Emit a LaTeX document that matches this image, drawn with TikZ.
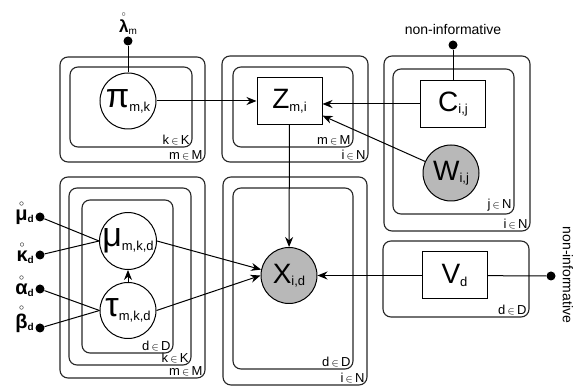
\documentclass[tikz,border=0pt]{standalone}
\usepackage{amsmath}
\usepackage{fontspec}
\setmainfont{Liberation Sans}
\usetikzlibrary{arrows.meta}

% big letter with its index set low beside it
\newcommand{\lab}[2]{{\fontsize{28}{28}\selectfont #1}\raisebox{-2.5pt}{\fontsize{13}{13}\selectfont #2}}
\newcommand{\glab}[2]{{\fontsize{34}{34}\selectfont #1}\raisebox{-4pt}{\fontsize{13}{13}\selectfont #2}}
% hyperparameter: bold greek with a ring on top
\newcommand{\hlab}[2]{{\fontsize{20}{20}\selectfont\bfseries$\overset{\scriptscriptstyle\circ}{\text{#1}}$}\raisebox{-2pt}{\fontsize{10}{10}\selectfont\bfseries #2}}
\newcommand{\pin}{\,{\fontsize{11}{11}\selectfont$\in$}\,}

\begin{document}
\begin{tikzpicture}[x=1pt,y=-1pt,
 plate/.style={rounded corners=8pt,line width=1.1pt,draw=black!85},
 plab/.style={anchor=south east,inner sep=2pt,font=\fontsize{13}{13}\selectfont},
 var/.style={circle,draw,line width=1pt,minimum size=56pt,inner sep=0pt},
 obs/.style={var,fill=black!28},
 fixed/.style={rectangle,draw,line width=1pt,minimum width=65pt,minimum height=47pt,inner sep=0pt},
 hdot/.style={circle,fill,inner sep=0pt,minimum size=9pt},
 arr/.style={-{Stealth[length=10pt,width=8pt]},line width=1pt},
 lnk/.style={line width=1pt}]
 \useasboundingbox (0,0) rectangle (582,390);

 % plates
 \draw[plate] (60,57) rectangle (205,162) node[plab] (m1) {m\pin M};
 \draw[plate] (70,67) rectangle (192,147) node[plab] (k1) {k\pin K};
 \draw[plate] (222,56) rectangle (368,162) node[plab] (i1) {i\pin N};
 \draw[plate] (233,67) rectangle (353,147) node[plab] (m2) {m\pin M};
 \draw[plate] (384,56) rectangle (530,231) node[plab] (i2) {i\pin N};
 \draw[plate] (393,69) rectangle (514,214) node[plab] (j1) {j\pin N};
 \draw[plate] (60,177) rectangle (205,378) node[plab] (m3) {m\pin M};
 \draw[plate] (69,188) rectangle (191,365) node[plab] (k2) {k\pin K};
 \draw[plate] (82,200) rectangle (173,353) node[plab] (d1) {d\pin D};
 \draw[plate] (223,177) rectangle (367,385) node[plab] (i3) {i\pin N};
 \draw[plate] (233,188) rectangle (353,369) node[plab] (d2) {d\pin D};
 \draw[plate] (383,241) rectangle (529,317) node[plab] (d3) {d\pin D};

 % variables
 \node[var] (pi) at (128,101) {\glab{π}{m,k}};
 \node[fixed] (Z) at (289.5,101) {\lab{Z}{m,i}};
 \node[fixed] (C) at (453,104) {\lab{C}{i,j}};
 \node[obs] (W) at (451,173) {\lab{W}{i,j}};
 \node[var] (mu) at (128,241) {\glab{μ}{m,k,d}};
 \node[var] (tau) at (128,310.5) {\glab{τ}{m,k,d}};
 \node[obs] (X) at (289,275.5) {\lab{X}{i,d}};
 \node[fixed] (V) at (454.5,275.5) {\lab{V}{d}};

 % fixed hyperparameters
 \node[hdot] (lamdot) at (128,41) {};
 \node[anchor=base] (lam) at (128,33) {{\fontsize{17}{17}\selectfont\bfseries$\overset{\scriptscriptstyle\circ}{\text{λ}}$}\raisebox{-1.5pt}{\fontsize{10}{10}\selectfont m}};
 \node[hdot] (mud) at (40,217) {};
 \node[hdot] (kapd) at (40,255) {};
 \node[hdot] (alpd) at (40,289) {};
 \node[hdot] (betd) at (40,328) {};
 \node[anchor=base east,inner sep=0pt] (mul) at (34,221) {\hlab{μ}{d}};
 \node[anchor=base east,inner sep=0pt] (kapl) at (34,262) {\hlab{κ}{d}};
 \node[anchor=base east,inner sep=0pt] (alpl) at (34,295) {\hlab{α}{d}};
 \node[anchor=base east,inner sep=0pt] (betl) at (34,329) {\hlab{β}{d}};
 \node[hdot] (nidot) at (453,45) {};
 \node[font=\fontsize{14}{14}\selectfont] (ni) at (453,29) {non-informative};
 \node[hdot] (vdot) at (551,276) {};
 \node[font=\fontsize{14}{14}\selectfont,rotate=-90] (ni2) at (568,275) {non-informative};

 % links
 \draw[lnk] (lamdot) -- (pi);
 \draw[arr] (pi) -- (Z);
 \draw[arr] (C.west) -- (C.west -| Z.east);
 \draw[arr] (W) -- (Z);
 \draw[lnk] (nidot) -- (C);
 \draw[arr] (Z) -- (X);
 \draw[arr] (V) -- (X);
 \draw[lnk] (V) -- (vdot);
 \draw[arr] (tau) -- (mu);
 \draw[arr] (mu.east) -- (X.168);
 \draw[arr] (tau.east) -- (X.west);
 \draw[lnk] (mud) -- (mu.west);
 \draw[lnk] (kapd) -- (mu.west);
 \draw[lnk] (alpd) -- (tau.west);
 \draw[lnk] (betd) -- (tau.west);
\end{tikzpicture}
\end{document}
